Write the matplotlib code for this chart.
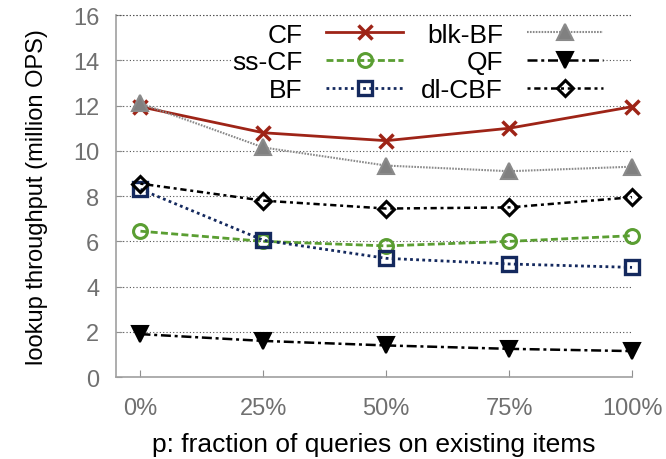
import matplotlib
matplotlib.use('Agg')
import matplotlib.pyplot as plt

plt.rcParams['font.family'] = ['Liberation Sans', 'DejaVu Sans']

# 数据：查询中已存在元素的比例 p (%)
p_values = [0, 25, 50, 75, 100]
tick_labels = ['0%', '25%', '50%', '75%', '100%']

cf = [11.95, 10.8, 10.45, 11.0, 11.95]
ss_cf = [6.45, 6.0, 5.8, 6.0, 6.25]
bf = [8.3, 6.05, 5.25, 5.0, 4.85]
blk_bf = [12.1, 10.15, 9.35, 9.1, 9.3]
qf = [1.9, 1.6, 1.4, 1.25, 1.15]
dl_cbf = [8.55, 7.8, 7.45, 7.5, 7.95]

fig = plt.figure(figsize=(6.66, 4.6), dpi=100)
ax = fig.add_axes([0.174, 0.178, 0.775, 0.787])

common = dict(clip_on=False, markersize=10)
ax.plot(p_values, cf, label='CF', color='#9e2417', linestyle='-', linewidth=2,
        marker='x', markeredgewidth=2.5, **common)
ax.plot(p_values, ss_cf, label='ss-CF', color='#5a9e32', linestyle=(0, (2.5, 1.2)),
        linewidth=2, marker='o', markerfacecolor='none', markeredgewidth=2.2, **common)
ax.plot(p_values, bf, label='BF', color='#14295e', linestyle=(0, (1, 1.2)),
        linewidth=2, marker='s', markerfacecolor='none', markeredgewidth=2.4, **common)
ax.plot(p_values, blk_bf, label='blk-BF', color='#8a8a8a', linestyle=(0, (0.8, 0.6)),
        linewidth=1.5, marker='^', markerfacecolor='#808080', markeredgewidth=1.5,
        clip_on=False, markersize=11)
ax.plot(p_values, qf, label='QF', color='black', linestyle=(0, (4, 1.5, 1.2, 1.5)),
        linewidth=1.8, marker='v', markerfacecolor='black', markeredgewidth=1.5,
        clip_on=False, markersize=11)
ax.plot(p_values, dl_cbf, label='dl-CBF', color='black', linestyle=(0, (1.2, 1.5, 2.5, 1.5)),
        linewidth=1.8, marker='D', markerfacecolor='none', markersize=8, markeredgewidth=2.2,
        clip_on=False)

# 坐标轴设置
ax.set_xlim(-5, 100)
ax.set_ylim(0, 16)
ax.set_xticks(p_values)
ax.set_xticklabels(tick_labels)
ax.set_yticks(range(0, 17, 2))
ax.tick_params(axis='both', labelsize=17, labelcolor='#707070', colors='#909090')
ax.tick_params(axis='x', direction='in', length=5, pad=14)
ax.tick_params(axis='y', direction='in', length=4, pad=12)
grid_style = dict(linestyle=(0, (1, 2)), color='#505050', linewidth=0.8)
ax.yaxis.grid(True, **grid_style)
ax.set_axisbelow(True)
# 顶部网格线画在图例之上
ax.axhline(16, zorder=6, clip_on=False, **grid_style)

for side in ['top', 'right']:
    ax.spines[side].set_visible(False)
for side in ['left', 'bottom']:
    ax.spines[side].set_color('#a0a0a0')
    ax.spines[side].set_linewidth(1.2)

ax.set_xlabel('p: fraction of queries on existing items', fontsize=19, labelpad=10)
ax.set_ylabel('lookup throughput (million OPS)', fontsize=17, labelpad=18)

leg = ax.legend(ncol=2, loc='upper right', bbox_to_anchor=(0.97, 1.016), frameon=True,
                fontsize=19, markerfirst=False, handlelength=2.9, columnspacing=0.7,
                labelspacing=0.15, handletextpad=0.9, borderpad=0.0)
leg.get_frame().set_edgecolor('none')
leg.get_frame().set_facecolor('white')
leg.get_frame().set_alpha(1)
for t in leg.get_texts():
    t.set_ha('right')

fig.savefig('out.png', dpi=100)
